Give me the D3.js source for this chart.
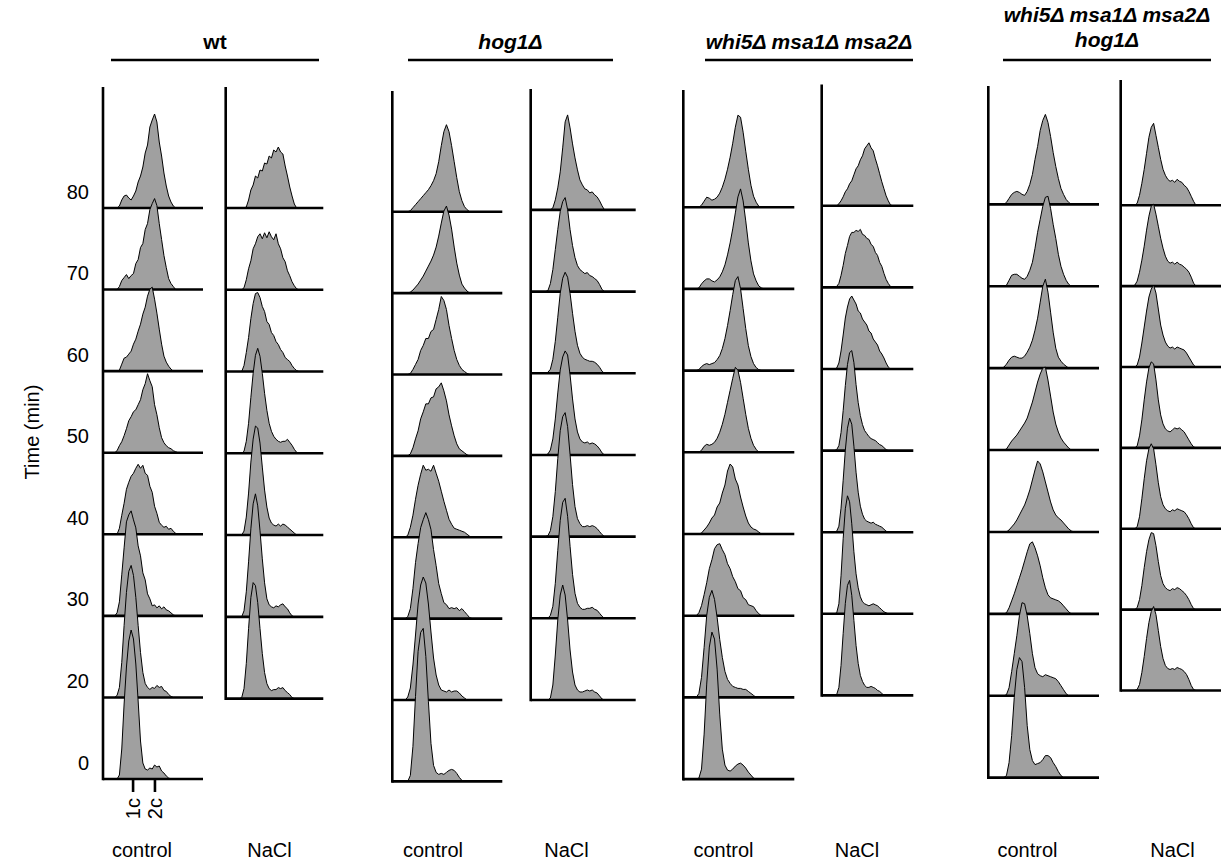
<!DOCTYPE html>
<html>
<head>
<meta charset="utf-8">
<script src="https://cdn.jsdelivr.net/npm/d3@7"></script>
<style>
  body { margin: 0; background: #fff; }
  svg { display: block; }
  text { font-family: "Liberation Sans", Arial, sans-serif; fill: #000; }
</style>
</head>
<body>
<svg id="chart" width="1221" height="868"></svg>
<script>
// DNA-content channels (FL-A, arbitrary units) at which each histogram is sampled
const channels = [30,36,42,48,54,60,66,72,78,84,90,96,102,108,114,120,126,132,138,144,150,156,162,168,174,180,186,192,198];

// Sampling times (min) after release
const controlTimes = [0, 20, 30, 40, 50, 60, 70, 80];
const naclTimes = [20, 30, 40, 50, 60, 70, 80];
const timeTickLabels = ["0", "20", "30", "40", "50", "60", "70", "80"];

// Ploidy markers on the DNA-content axis
const ploidyLabels = ["1c", "2c"];
const ploidyChannels = [77, 133];

const conditionNames = ["control", "NaCl"];

// Cell counts per channel; one row per time point, in the order of the time arrays
const wtControl = [
  [0,0,4,30,75,112,138,149,140,115,78,38,16,10,9,11,10,14,12,13,8,6,3,1,0,0,0,0,0],
  [0,2,10,35,72,105,126,132,122,100,72,45,25,14,10,8,10,9,12,10,11,7,6,3,1,0,0,0,0],
  [0,3,14,41,68,94,101,105,96,88,70,60,43,36,22,17,10,11,8,10,7,9,6,5,3,1,0,0,0],
  [0,0,6,19,31,45,52,58,61,66,70,66,69,61,59,48,42,28,21,12,9,7,8,5,6,3,1,0,0],
  [0,2,7,11,17,24,32,36,41,43,48,53,63,69,79,72,66,48,38,25,15,10,7,5,4,2,1,0,0],
  [0,0,1,7,13,14,17,20,27,32,40,47,57,64,75,82,84,72,58,42,27,15,9,5,2,0,0,0,0],
  [0,0,3,9,12,15,11,14,16,26,30,42,46,60,66,80,86,91,84,66,50,34,22,11,6,3,0,0,0],
  [0,0,2,8,12,13,10,8,12,17,26,32,41,55,63,81,88,94,86,66,52,35,22,12,6,2,0,0,0]
];
const wtNaCl = [
  [0,0,1,10,35,70,101,116,113,96,70,45,26,15,10,8,9,9,11,10,11,8,6,4,1,0,0,0,0],
  [0,0,0,6,25,55,88,113,123,111,86,58,34,18,12,10,9,11,10,12,13,10,8,4,1,0,0,0,0],
  [0,0,0,4,18,42,73,96,109,107,92,68,45,28,17,12,10,9,11,9,11,10,8,6,4,2,0,0,0],
  [0,0,0,2,12,30,56,80,98,105,97,80,60,43,30,22,17,14,12,11,12,12,14,11,8,4,1,0,0],
  [0,0,0,6,19,34,53,68,78,79,74,65,60,50,47,39,36,30,27,22,19,14,12,10,6,3,1,0,0],
  [0,0,0,2,10,21,29,41,46,53,56,51,57,52,58,53,50,56,46,41,32,28,19,14,8,4,1,0,0],
  [0,0,0,0,1,8,18,23,32,30,38,37,45,44,52,50,58,56,61,56,54,42,32,21,12,4,0,0,0]
];
const hog1Control = [
  [0,0,6,35,85,130,149,153,125,80,38,16,9,7,8,7,9,11,12,11,8,4,1,0,0,0,0,0,0],
  [0,3,12,35,65,96,115,123,117,96,68,42,25,15,10,9,8,10,8,9,9,7,4,2,0,0,0,0,0],
  [0,2,10,30,56,75,91,99,106,99,89,69,53,35,25,16,14,10,11,10,11,8,10,7,4,1,0,0,0],
  [0,2,10,22,38,52,63,72,67,68,66,72,64,56,46,36,27,18,13,9,8,7,6,5,3,1,0,0,0],
  [0,0,2,8,17,25,37,44,52,52,58,59,67,69,73,65,55,41,30,20,12,7,5,3,1,0,0,0,0],
  [0,0,1,5,10,15,24,29,36,36,43,45,55,65,78,74,65,49,36,24,15,9,5,3,1,0,0,0,0],
  [0,0,1,3,6,9,13,17,22,27,32,38,46,57,70,82,87,78,64,46,30,18,9,5,2,0,0,0,0],
  [0,0,1,4,7,10,13,16,19,22,26,31,38,50,66,80,87,80,66,50,34,20,11,5,2,0,0,0,0]
];
const hog1NaCl = [
  [0,0,0,2,15,45,80,105,115,105,80,50,28,15,10,8,8,9,10,9,10,8,7,4,1,0,0,0,0],
  [0,0,0,3,12,35,68,98,116,120,102,72,44,25,15,11,9,9,10,10,11,9,8,5,2,0,0,0,0],
  [0,0,1,6,20,45,78,106,120,124,110,82,52,30,18,13,10,10,11,10,11,10,8,5,2,0,0,0,0],
  [0,0,1,5,16,36,62,85,98,104,100,80,56,36,23,16,13,12,13,11,12,11,9,6,2,0,0,0,0],
  [0,0,1,4,14,32,56,80,95,101,96,80,60,42,28,20,16,14,13,12,12,11,9,6,2,0,0,0,0],
  [0,0,1,8,22,42,62,80,90,94,82,62,46,34,26,22,20,18,19,16,15,13,11,7,2,0,0,0,0],
  [0,0,0,0,2,10,22,38,62,88,95,82,66,52,40,30,25,21,20,17,18,15,13,9,4,0,0,0,0]
];
const whi5Control = [
  [0,1,10,45,95,132,147,140,110,65,30,14,9,8,10,13,15,16,14,11,7,4,1,0,0,0,0,0,0],
  [0,4,20,50,82,100,107,98,80,58,40,26,18,14,11,10,9,9,8,8,6,4,2,0,0,0,0,0,0],
  [0,3,10,21,33,47,56,67,71,72,66,61,52,47,39,34,27,25,18,16,11,10,9,5,2,0,0,0,0],
  [0,0,1,4,7,11,16,19,27,31,41,49,63,70,67,55,49,37,27,18,11,7,5,4,2,0,0,0,0],
  [0,0,2,6,8,7,8,10,14,20,28,38,50,62,74,85,82,70,54,38,24,14,7,3,0,0,0,0,0],
  [0,1,4,6,7,6,7,8,11,15,22,32,45,60,76,90,94,82,62,42,25,14,7,3,1,0,0,0,0],
  [0,1,5,8,10,10,8,7,9,12,17,24,34,46,60,76,92,100,88,68,46,28,15,8,3,1,0,0,0],
  [0,0,2,6,10,9,7,8,10,14,20,28,38,50,64,80,92,90,75,56,38,22,11,5,1,0,0,0,0]
];
const whi5NaCl = [
  [0,0,1,8,30,62,92,110,115,100,75,50,32,20,14,10,8,8,9,8,7,5,4,2,0,0,0,0,0],
  [0,0,1,10,38,75,105,118,112,90,62,40,26,17,12,10,9,8,9,10,9,8,6,4,2,1,0,0,0],
  [0,0,1,6,24,52,82,104,114,108,86,60,40,26,18,13,11,10,9,10,8,7,6,5,3,1,0,0,0],
  [0,0,1,5,18,40,65,86,98,100,88,66,48,35,26,20,17,14,12,11,10,8,6,5,3,1,0,0,0],
  [0,0,1,6,18,34,51,62,70,73,69,65,58,56,50,47,44,38,36,30,27,24,18,15,11,6,2,0,0],
  [0,0,1,4,12,22,34,42,51,55,55,57,56,58,53,52,49,48,43,41,35,32,25,21,14,8,4,1,0],
  [0,0,0,2,5,9,14,17,22,25,31,37,40,46,50,57,60,63,58,55,47,40,32,24,17,10,5,1,0]
];
const quadControl = [
  [0,0,2,15,42,80,108,120,116,90,52,28,17,13,14,15,18,22,22,20,15,11,6,2,0,0,0,0,0],
  [0,0,1,8,24,42,60,80,93,92,80,62,42,28,22,20,19,21,20,19,18,17,14,10,6,2,0,0,0],
  [0,0,1,6,13,20,28,36,44,53,62,70,72,66,58,48,36,26,19,16,15,14,13,11,8,5,2,0,0],
  [0,0,0,2,5,8,12,17,22,27,34,42,52,62,71,68,60,50,40,30,22,17,14,12,9,6,3,1,0],
  [0,0,1,5,9,12,15,19,23,27,32,40,48,58,68,76,82,83,70,54,38,26,18,12,8,5,2,0,0],
  [0,1,4,8,11,12,11,10,10,12,16,21,28,38,50,66,82,89,76,56,36,20,11,7,4,2,0,0,0],
  [0,0,1,6,11,12,12,10,8,7,10,16,24,38,54,67,80,89,90,78,62,48,32,20,12,6,2,0,0],
  [0,0,2,6,10,12,13,12,10,9,13,20,30,45,58,74,84,90,82,68,52,38,26,16,10,5,2,0,0]
];
const quadNaCl = [
  [0,0,1,6,18,34,52,68,79,84,76,60,44,32,25,22,21,22,21,23,22,21,19,16,11,5,1,0,0],
  [0,0,2,10,24,42,58,70,77,76,64,48,34,26,22,20,19,21,20,22,21,19,17,14,10,5,1,0,0],
  [0,0,2,12,30,50,68,80,85,80,64,46,32,24,20,18,17,19,18,20,19,18,17,14,10,5,1,0,0],
  [0,0,2,12,28,48,66,80,86,84,68,48,33,24,19,17,16,18,20,19,20,18,16,12,8,4,1,0,0],
  [0,0,2,10,24,40,56,70,78,82,74,58,42,32,25,21,19,20,18,20,19,18,17,14,10,6,2,0,0],
  [0,1,5,14,26,40,56,70,80,82,72,60,48,38,30,25,23,24,22,24,22,21,19,17,14,9,3,0,0],
  [0,0,2,10,22,36,52,68,78,82,70,58,46,36,30,26,24,25,23,26,24,23,20,18,14,9,4,0,0]
];

// Panel geometry: left axis position, channel-axis extent, baseline span and label position
const panels = [
  { data: wtControl,   times: controlTimes, cond: 0, x0: 103,    x1: 203,    axisTop: 87,   yTop: 208,   yBottom: 779,   labelX: 142 },
  { data: wtNaCl,      times: naclTimes,    cond: 1, x0: 225.7,  x1: 323.3,  axisTop: 87,   yTop: 208,   yBottom: 698.6, labelX: 269.5 },
  { data: hog1Control, times: controlTimes, cond: 0, x0: 392.3,  x1: 502.3,  axisTop: 91,   yTop: 211.7, yBottom: 781.4, labelX: 433 },
  { data: hog1NaCl,    times: naclTimes,    cond: 1, x0: 530.7,  x1: 635.7,  axisTop: 89,   yTop: 209.9, yBottom: 700,   labelX: 566.5 },
  { data: whi5Control, times: controlTimes, cond: 0, x0: 683.3,  x1: 794.3,  axisTop: 90,   yTop: 207.2, yBottom: 779.1, labelX: 723.5 },
  { data: whi5NaCl,    times: naclTimes,    cond: 1, x0: 821.7,  x1: 913.3,  axisTop: 84.5, yTop: 205.8, yBottom: 695.4, labelX: 857 },
  { data: quadControl, times: controlTimes, cond: 0, x0: 988.3,  x1: 1099,   axisTop: 86,   yTop: 204.4, yBottom: 777.6, labelX: 1027.5 },
  { data: quadNaCl,    times: naclTimes,    cond: 1, x0: 1120.7, x1: 1221,   axisTop: 80,   yTop: 205.3, yBottom: 690.5, labelX: 1172.5 }
];

// Strain headers: text lines, centre, underline span
const headers = [
  { lines: ["wt"], italic: false, cx: 215, ys: [48.5], lx0: 111, lx1: 319 },
  { lines: ["hog1Δ"], italic: true, cx: 510.5, ys: [48.5], lx0: 408, lx1: 613 },
  { lines: ["whi5Δ msa1Δ msa2Δ"], italic: true, cx: 809, ys: [49], lx0: 705, lx1: 913 },
  { lines: ["whi5Δ msa1Δ msa2Δ", "hog1Δ"], italic: true, cx: 1107, ys: [22, 47], lx0: 1003, lx1: 1211 }
];

const svg = d3.select("#chart");
svg.append("rect").attr("width", 1221).attr("height", 868).attr("fill", "#fff");

const AXIS_W = 2.6;
const FILL = "#a0a0a0";
const countScale = d3.scaleLinear().domain([0, 100]).range([0, 100]);
const channelMax = 256;

panels.forEach((p, pi) => {
  const g = svg.append("g");
  const x = d3.scaleLinear().domain([0, channelMax]).range([p.x0, p.x1]);
  const topDown = p.times.slice().reverse();
  const y = d3.scalePoint().domain(topDown).range([p.yTop, p.yBottom]);

  // latest time at the top; earlier histograms are drawn over the later ones
  topDown.forEach(t => {
    const counts = p.data[p.times.indexOf(t)];
    const base = y(t);
    const area = d3.area()
      .x((d, i) => x(channels[i]))
      .y0(base)
      .y1(d => base - countScale(d));
    const outline = d3.line()
      .x((d, i) => x(channels[i]))
      .y(d => base - countScale(d));
    g.append("path").attr("d", area(counts)).attr("fill", FILL);
    g.append("path").attr("d", outline(counts))
      .attr("fill", "none").attr("stroke", "#000").attr("stroke-width", 1)
      .attr("stroke-linejoin", "miter");
    g.append("line")
      .attr("x1", x(0)).attr("x2", x(channelMax))
      .attr("y1", base).attr("y2", base)
      .attr("stroke", "#000").attr("stroke-width", AXIS_W);
  });

  // vertical axis
  g.append("line")
    .attr("x1", p.x0).attr("x2", p.x0)
    .attr("y1", p.axisTop).attr("y2", p.yBottom + AXIS_W / 2)
    .attr("stroke", "#000").attr("stroke-width", AXIS_W);

  // condition label
  g.append("text")
    .attr("x", p.labelX).attr("y", 856.5)
    .attr("text-anchor", "middle").attr("font-size", 20)
    .text(conditionNames[p.cond]);

  if (pi === 0) {
    // time labels
    controlTimes.forEach((t, i) => {
      g.append("text")
        .attr("x", p.x0 - 14).attr("y", y(t) - 9.5)
        .attr("text-anchor", "end").attr("font-size", 20)
        .text(timeTickLabels[i]);
    });
    // ploidy ticks
    ploidyChannels.forEach((c, i) => {
      const cx = x(c);
      g.append("line")
        .attr("x1", cx).attr("x2", cx)
        .attr("y1", p.yBottom).attr("y2", p.yBottom + 13)
        .attr("stroke", "#000").attr("stroke-width", AXIS_W);
      g.append("text")
        .attr("transform", `translate(${cx + 7},${p.yBottom + 19}) rotate(-90)`)
        .attr("text-anchor", "end").attr("font-size", 20)
        .text(ploidyLabels[i]);
    });
  }
});

// y-axis title
svg.append("text")
  .attr("transform", "translate(39,432) rotate(-90)")
  .attr("text-anchor", "middle").attr("font-size", 20)
  .text("Time (min)");

// strain headers
headers.forEach(h => {
  h.lines.forEach((ln, i) => {
    svg.append("text")
      .attr("x", h.cx).attr("y", h.ys[i])
      .attr("text-anchor", "middle").attr("font-size", 21)
      .attr("font-weight", "bold")
      .attr("font-style", h.italic ? "italic" : "normal")
      .text(ln);
  });
  svg.append("line")
    .attr("x1", h.lx0).attr("x2", h.lx1)
    .attr("y1", 60).attr("y2", 60)
    .attr("stroke", "#000").attr("stroke-width", AXIS_W);
});
</script>
</body>
</html>
